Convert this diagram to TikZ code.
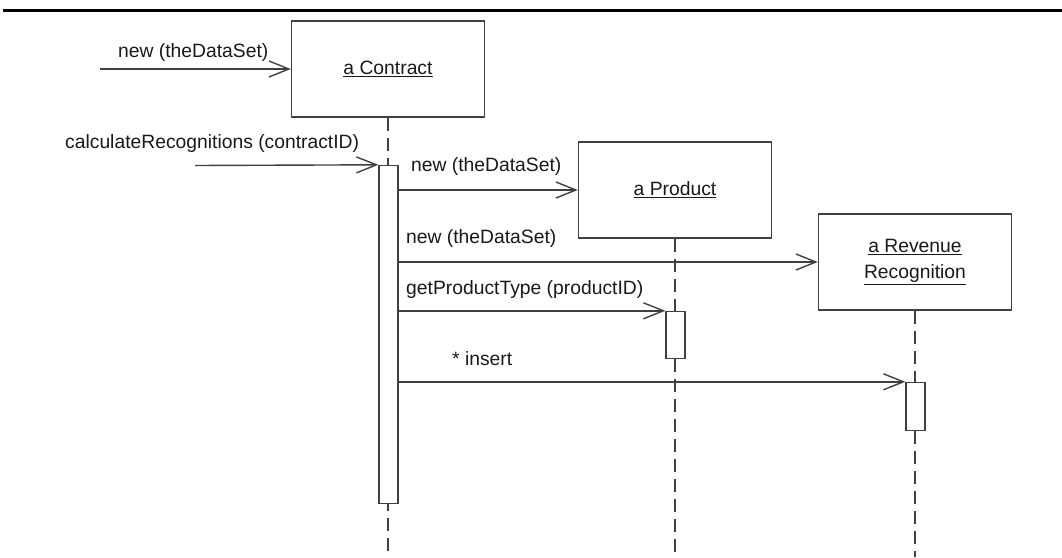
\documentclass[tikz,border=0pt]{standalone}
\usepackage{fontspec}
\setmainfont{Liberation Sans}
\usetikzlibrary{arrows.meta}
\begin{document}
\begin{tikzpicture}[x=1pt,y=-1pt,
  every node/.style={font=\fontsize{19.3}{26}\selectfont, text=black!90},
  objbox/.style={draw=black!75, line width=1.4pt, fill=white, minimum width=193pt, minimum height=96pt, inner sep=0pt, align=center},
  actbar/.style={draw=black!75, line width=1.4pt, fill=white, minimum width=19pt, inner sep=0pt},
  life/.style={draw=black!75, line width=1.4pt, dash pattern=on 13pt off 7pt},
  msg/.style={draw=black!75, line width=1.4pt, -{Straight Barb[length=20pt,width=16pt]}},
  lbl/.style={anchor=base west, inner sep=0pt}]
\useasboundingbox (0,0) rectangle (1062,557);
\draw[line width=3pt] (3,10.5) -- (1062,10.5);
\coordinate (bot) at (0,557);
% objects
\node[objbox] (contract) at (388,69) {\underline{a Contract}};
\node[objbox] (prod) at (675,190) {\underline{a Product}};
\node[objbox] (rev) at (915,262) {\underline{a Revenue}\\\underline{Recognition}};
% lifelines
\draw[life] (contract.south) -- (contract.south |- bot);
\draw[life] (prod.south) -- (prod.south |- bot);
\draw[life] (rev.south) -- (rev.south |- bot);
% activations
\node[actbar, minimum height=338pt] (cact) at (388.5,334.5) {};
\node[actbar, minimum height=47pt] (pact) at (675.5,335) {};
\node[actbar, minimum height=48pt] (ract) at (915.5,406.5) {};
% messages
\coordinate (c1) at (100,69);
\coordinate (c2) at (195,165.5);
\draw[msg] (c1) -- (contract.west |- c1);
\draw[msg] (c2) -- (cact.north west);
\draw[msg] (prod.west -| cact.east) -- (prod.west);
\draw[msg] (rev.west -| cact.east) -- (rev.west);
\draw[msg] (pact.north west -| cact.east) -- (pact.north west);
\draw[msg] (ract.north west -| cact.east) -- (ract.north west);
% labels
\node[lbl] (l1) at (118,57) {new (theDataSet)};
\node[lbl] (l2) at (65,148) {calculateRecognitions (contractID)};
\node[lbl] (l3) at (411,171) {new (theDataSet)};
\node[lbl] (l4) at (406,243) {new (theDataSet)};
\node[lbl] (l5) at (406,294) {getProductType (productID)};
\node[lbl] (l6) at (452,365) {* insert};
\end{tikzpicture}
\end{document}
